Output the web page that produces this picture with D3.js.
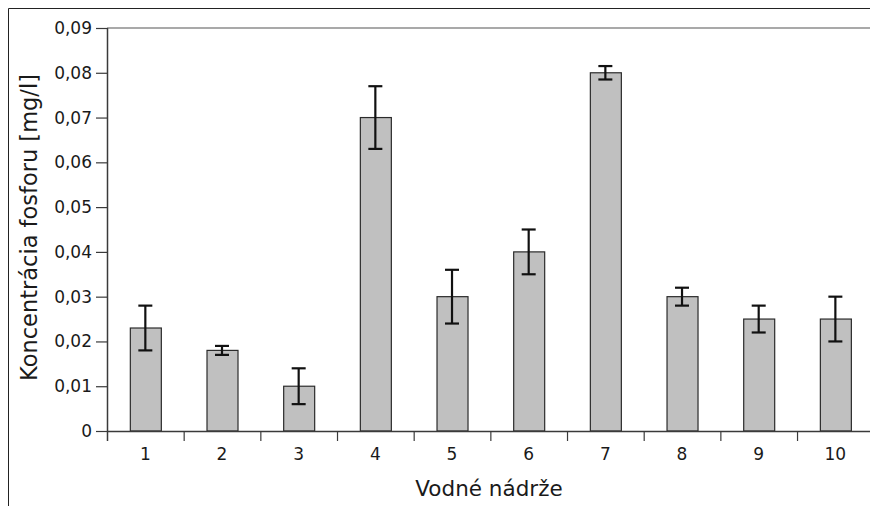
<!DOCTYPE html>
<html>
<head>
<meta charset="utf-8">
<script src="https://d3js.org/d3.v7.min.js"></script>
<style>
  body { margin: 0; background: #fff; }
  text { font-family: "DejaVu Sans", sans-serif; fill: #1a1a1a; }
</style>
</head>
<body>
<script>
// data
const tanks = ["1", "2", "3", "4", "5", "6", "7", "8", "9", "10"];
const phosphorus = [0.023, 0.018, 0.010, 0.070, 0.030, 0.040, 0.080, 0.030, 0.025, 0.025];
const errors = [0.005, 0.001, 0.004, 0.007, 0.006, 0.005, 0.0015, 0.002, 0.003, 0.005];
const yTicks = [0, 0.01, 0.02, 0.03, 0.04, 0.05, 0.06, 0.07, 0.08, 0.09];

const width = 870, height = 506;
const plotLeft = 107, plotTop = 28, plotBottom = 431;
const band = 76.67;

const svg = d3.select("body").append("svg")
    .attr("width", width)
    .attr("height", height);

// outer frame (top and left only visible)
svg.append("path")
    .attr("d", `M8.5,${height} V8.5 H${width}`)
    .attr("fill", "none")
    .attr("stroke", "#222")
    .attr("stroke-width", 1);

let x = d3.scaleBand()
    .domain(tanks)
    .range([plotLeft, plotLeft + band * tanks.length])
    .paddingInner(0).paddingOuter(0);

let y = d3.scaleLinear()
    .domain([0, 0.09])
    .range([plotBottom, plotTop]);

// top border of plot area
svg.append("line")
    .attr("x1", plotLeft).attr("x2", width)
    .attr("y1", y(0.09)).attr("y2", y(0.09))
    .attr("stroke", "#8c8c8c")
    .attr("stroke-width", 1.5);

// bars
const barW = 31;
svg.selectAll("rect.bar")
    .data(tanks)
    .join("rect")
        .attr("class", "bar")
        .attr("x", (d, i) => x(d) + x.bandwidth() / 2 - barW / 2 + 0.5)
        .attr("y", (d, i) => y(phosphorus[i]))
        .attr("width", barW)
        .attr("height", (d, i) => y(0) - y(phosphorus[i]))
        .attr("fill", "#c0c0c0")
        .attr("stroke", "#2b2b2b")
        .attr("stroke-width", 1.2);

// error bars
const capW = 14;
let eb = svg.selectAll("g.err")
    .data(tanks)
    .join("g")
        .attr("class", "err")
        .attr("stroke", "#111")
        .attr("stroke-width", 2.2);
eb.append("line")
    .attr("x1", d => x(d) + x.bandwidth() / 2)
    .attr("x2", d => x(d) + x.bandwidth() / 2)
    .attr("y1", (d, i) => y(phosphorus[i] + errors[i]))
    .attr("y2", (d, i) => y(phosphorus[i] - errors[i]));
eb.append("line")
    .attr("x1", d => x(d) + x.bandwidth() / 2 - capW / 2)
    .attr("x2", d => x(d) + x.bandwidth() / 2 + capW / 2)
    .attr("y1", (d, i) => y(phosphorus[i] + errors[i]))
    .attr("y2", (d, i) => y(phosphorus[i] + errors[i]));
eb.append("line")
    .attr("x1", d => x(d) + x.bandwidth() / 2 - capW / 2)
    .attr("x2", d => x(d) + x.bandwidth() / 2 + capW / 2)
    .attr("y1", (d, i) => y(phosphorus[i] - errors[i]))
    .attr("y2", (d, i) => y(phosphorus[i] - errors[i]));

// y axis
let yAxis = svg.append("g")
    .attr("transform", `translate(${plotLeft},0)`)
    .call(d3.axisLeft(y)
        .tickValues(yTicks)
        .tickSize(11)
        .tickPadding(4)
        .tickFormat(d => d === 0 ? "0" : d3.format(".2f")(d).replace(".", ",")));
yAxis.select(".domain")
    .attr("d", `M0.5,${plotTop} V${plotBottom + 10}`)
    .attr("stroke", "#3a3a3a").attr("stroke-width", 1.5);
yAxis.selectAll(".tick line").attr("stroke", "#3a3a3a").attr("stroke-width", 1.2);
yAxis.selectAll("text").style("font-size", "17px").attr("fill", "#1a1a1a");

// x axis: ticks at band boundaries
let xAxis = svg.append("g")
    .attr("transform", `translate(0,${plotBottom})`);
xAxis.append("line")
    .attr("x1", plotLeft).attr("x2", width)
    .attr("y1", 0.5).attr("y2", 0.5)
    .attr("stroke", "#3a3a3a").attr("stroke-width", 1.5);
xAxis.selectAll("line.tk")
    .data(tanks.slice(1))
    .join("line")
        .attr("class", "tk")
        .attr("x1", d => x(d) + 0.5).attr("x2", d => x(d) + 0.5)
        .attr("y1", 0).attr("y2", 10)
        .attr("stroke", "#3a3a3a").attr("stroke-width", 1.2);
xAxis.selectAll("text.lbl")
    .data(tanks)
    .join("text")
        .attr("class", "lbl")
        .attr("x", d => x(d) + x.bandwidth() / 2)
        .attr("y", 29)
        .attr("text-anchor", "middle")
        .style("font-size", "17px")
        .text(d => d);

// axis titles
svg.append("text")
    .attr("x", 489)
    .attr("y", 496)
    .attr("text-anchor", "middle")
    .style("font-size", "21.5px")
    .text("Vodné nádrže");

svg.append("text")
    .attr("transform", `translate(37,227.5) rotate(-90)`)
    .attr("text-anchor", "middle")
    .style("font-size", "22.5px")
    .text("Koncentrácia fosforu [mg/l]");
</script>
</body>
</html>
